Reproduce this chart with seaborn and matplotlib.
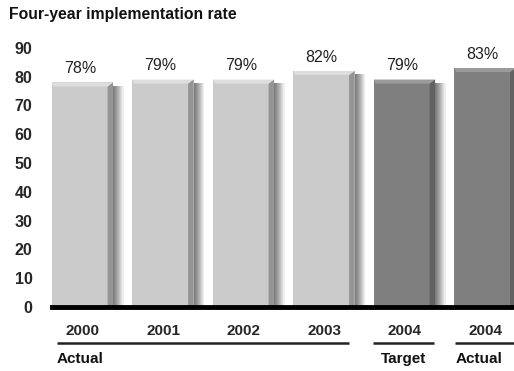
import matplotlib
matplotlib.use("Agg")
import matplotlib.pyplot as plt
import matplotlib.patheffects as pe
from matplotlib.patches import Polygon
import seaborn as sns
import pandas as pd

# ---- data ----
years = ["2000", "2001", "2002", "2003", "2004", "2004"]
status = ["Actual", "Actual", "Actual", "Actual", "Target", "Actual"]
rates = [78, 79, 79, 82, 79, 83]
kind = ["past", "past", "past", "past", "2004", "2004"]
value_labels = ["78%", "79%", "79%", "82%", "79%", "83%"]
groups = [("Actual", -0.317, 3.31, "left"),
          ("Target", 3.61, 4.37, "center"),
          ("Actual", 4.63, 5.36, "left")]
title = "Four-year implementation rate"

sns.set_theme(style="white")
plt.rcParams["font.family"] = ["Liberation Sans", "DejaVu Sans"]

df = pd.DataFrame({"pos": [str(i) for i in range(len(rates))],
                   "rate": rates, "kind": kind})

fig = plt.figure(figsize=(5.14, 3.71), dpi=100)
ax = fig.add_axes([52 / 514, 0.1725, 1 - 52 / 514, 0.8943 - 0.1725])

palette = {"past": "#cbcbcb", "2004": "#7f7f7f"}
sns.barplot(data=df, x="pos", y="rate", hue="kind", palette=palette,
            width=0.76, dodge=False, legend=False, ax=ax, saturation=1,
            edgecolor="none", linewidth=0)

shade = {"#cbcbcb": ("#dedede", "#959595"), "#7f7f7f": ("#9a9a9a", "#626262")}
patches = sorted([p for p in ax.patches if p.get_height() > 0], key=lambda p: p.get_x())
for p in patches:
    effects = [pe.SimplePatchShadow(offset=(k * 0.75, -2.5), shadow_rgbFace="#000000",
                                    alpha=0.065) for k in range(10, 0, -1)]
    p.set_path_effects(effects + [pe.Normal()])
    fc = matplotlib.colors.to_hex(p.get_facecolor())
    top_c, side_c = shade.get(fc, ("#dedede", "#959595"))
    x0, w, h = p.get_x(), p.get_width(), p.get_height()
    x1 = x0 + w
    sw = w * 0.09
    th = 1.4
    # right dark side
    ax.add_patch(Polygon([(x1 - sw, 0), (x1, 0), (x1, h), (x1 - sw, h - th)],
                         closed=True, facecolor=side_c, edgecolor="none", zorder=3))
    # top light bevel
    ax.add_patch(Polygon([(x0, h), (x1, h), (x1 - sw, h - th), (x0 + sw * 0.3, h - th)],
                         closed=True, facecolor=top_c, edgecolor="none", zorder=3))

for p, lab in zip(patches, value_labels):
    ax.annotate(lab, (p.get_x() + p.get_width() / 2 - 0.03, p.get_height()),
                xytext=(0, 4.5), textcoords="offset points", ha="center", va="bottom",
                fontsize=11.5, color="#222222")

ax.set_xlim(-0.379, 5.36)
ax.set_ylim(0, 93)
ax.set_yticks(range(0, 91, 10))
ax.set_yticklabels([str(v) for v in range(0, 91, 10)], fontweight="bold", fontsize=11.5)
ax.set_xticks(range(len(years)))
ax.set_xticklabels(years, fontweight="bold", fontsize=11)
ax.tick_params(axis="y", length=0, pad=14)
ax.tick_params(axis="x", length=0, pad=12)
ax.set_xlabel("")
ax.set_ylabel("")
for s in ["top", "right", "left"]:
    ax.spines[s].set_visible(False)
ax.spines["bottom"].set_color("black")
ax.spines["bottom"].set_linewidth(3.5)
ax.spines["bottom"].set_zorder(5)
ax.set_facecolor("white")

trans = matplotlib.transforms.blended_transform_factory(ax.transData, ax.transAxes)
for name, xa, xb, ha in groups:
    ax.plot([xa, xb], [-0.134, -0.134], transform=trans, color="#222222",
            linewidth=1.8, clip_on=False, solid_capstyle="butt")
    tx = xa if ha == "left" else (xa + xb) / 2
    ax.text(tx, -0.195, name, transform=trans, ha=ha, va="center",
            fontweight="bold", fontsize=11, color="#111111")

fig.text(9 / 514, 1 - 14 / 371, title, ha="left", va="center",
         fontweight="bold", fontsize=11.3, color="#111111")

fig.savefig("out.png", dpi=100, facecolor="white")
